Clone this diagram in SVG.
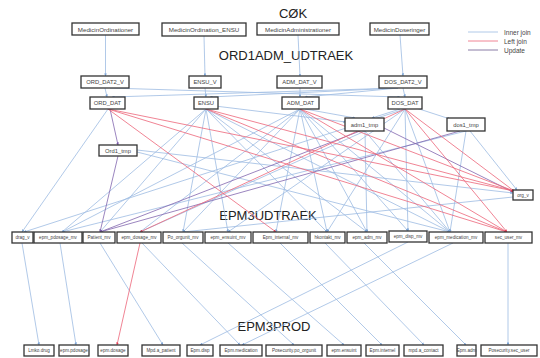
<svg xmlns="http://www.w3.org/2000/svg" width="540" height="358" viewBox="0 0 540 358">
<defs>
<marker id="ab" viewBox="0 0 6 6" refX="5.5" refY="3" markerWidth="3.5" markerHeight="3.5" orient="auto"><path d="M0,0 L6,3 L0,6 z" fill="#7fa6d6"/></marker>
<marker id="ar" viewBox="0 0 6 6" refX="5.5" refY="3" markerWidth="3.5" markerHeight="3.5" orient="auto"><path d="M0,0 L6,3 L0,6 z" fill="#e43f55"/></marker>
<marker id="ap" viewBox="0 0 6 6" refX="5.5" refY="3" markerWidth="3.5" markerHeight="3.5" orient="auto"><path d="M0,0 L6,3 L0,6 z" fill="#7a58a8"/></marker>
</defs>
<style>
.bg{fill:#fff}
.node rect{fill:#fff;stroke:#333;stroke-width:1.3}
.lbl{font-family:"Liberation Sans",Arial,sans-serif;fill:#444;text-anchor:middle;dominant-baseline:central}
.t6{font-size:6.2px}.t5{font-size:5.8px}.t4{font-size:4.6px}
.title{font-family:"Liberation Sans",Arial,sans-serif;font-size:13px;fill:#222;text-anchor:middle}
.leg{font-family:"Liberation Sans",Arial,sans-serif;font-size:6.5px;fill:#444}
.i{stroke:#9dbbe2;stroke-width:0.8;fill:none;marker-end:url(#ab)}
.l{stroke:#ec6478;stroke-width:0.8;fill:none;marker-end:url(#ar)}
.u{stroke:#8266ae;stroke-width:0.8;fill:none;marker-end:url(#ap)}
.li{stroke:#9dbbe2;stroke-width:0.8}
.ll{stroke:#ec6478;stroke-width:0.8}
.lu{stroke:#6d5a90;stroke-width:0.8}
</style>
<rect class="bg" x="0" y="0" width="540" height="358"/>

<text class="title" x="293" y="18">CØK</text>
<text class="title" x="286" y="60">ORD1ADM_UDTRAEK</text>
<text class="title" x="268" y="220" font-size="12">EPM3UDTRAEK</text>
<text class="title" x="274" y="331" font-size="12">EPM3PROD</text>

<g id="legend">
<line class="li" x1="468" y1="32" x2="498" y2="32"/><text class="leg" x="504" y="34.5">Inner join</text>
<line class="ll" x1="468" y1="41" x2="498" y2="41"/><text class="leg" x="504" y="43.5">Left join</text>
<line class="lu" x1="468" y1="50" x2="498" y2="50"/><text class="leg" x="504" y="52.5">Update</text>
</g>

<g id="connectors">
<path class="i" d="M105.5 35 L105.5 76"/>
<path class="i" d="M204 36 L205 76"/>
<path class="i" d="M298 35 L300 76"/>
<path class="i" d="M400 35 L403 76"/>
<path class="i" d="M105 88 L107 97"/>
<path class="i" d="M205 88 L206 97"/>
<path class="i" d="M300 88 L300 97"/>
<path class="i" d="M403 88 L405 97"/>
<path class="i" d="M110 88 L400 97"/>
<path class="i" d="M398 88 L112 97"/>
<path class="i" d="M398 88 L210 97"/>
<path class="i" d="M398 88 L305 97"/>
<path class="i" d="M108 109 L22 232"/>
<path class="i" d="M405 109 L24 232"/>
<path class="i" d="M206 109 L62 232"/>
<path class="i" d="M300 109 L62 232"/>
<path class="i" d="M466 131 L62 232"/>
<path class="i" d="M206 109 L100 232"/>
<path class="i" d="M300 109 L140 232"/>
<path class="i" d="M365 131 L140 232"/>
<path class="i" d="M206 109 L183 232"/>
<path class="i" d="M300 109 L183 232"/>
<path class="i" d="M513 197 L183 232"/>
<path class="i" d="M206 109 L228 232"/>
<path class="i" d="M405 109 L228 232"/>
<path class="i" d="M300 109 L276 232"/>
<path class="i" d="M206 109 L327 232"/>
<path class="i" d="M300 109 L327 232"/>
<path class="i" d="M405 109 L327 232"/>
<path class="i" d="M300 109 L367 232"/>
<path class="i" d="M365 131 L367 232"/>
<path class="i" d="M206 109 L367 232"/>
<path class="i" d="M405 109 L408 231"/>
<path class="i" d="M300 109 L408 231"/>
<path class="i" d="M206 109 L450 232"/>
<path class="i" d="M300 109 L450 232"/>
<path class="i" d="M405 109 L450 232"/>
<path class="i" d="M365 131 L450 232"/>
<path class="i" d="M466 131 L450 232"/>
<path class="i" d="M137 152 L450 232"/>
<path class="i" d="M470 131 L517 190"/>
<path class="i" d="M410 106 L450 119"/>
<path class="i" d="M400 109 L372 118"/>
<path class="i" d="M305 109 L355 118"/>
<path class="i" d="M215 106 L346 122"/>
<path class="i" d="M137 150 L513 193"/>
<path class="u" d="M110 109 L118 145"/>
<path class="u" d="M118 156 L100 232"/>
<path class="u" d="M360 131 L100 232"/>
<path class="u" d="M460 131 L100 232"/>
<path class="u" d="M384 128 L513 192"/>
<path class="l" d="M108 109 L276 232"/>
<path class="l" d="M108 109 L514 191"/>
<path class="l" d="M206 109 L514 191"/>
<path class="l" d="M300 109 L514 191"/>
<path class="l" d="M405 109 L514 191"/>
<path class="l" d="M108 109 L507 232"/>
<path class="l" d="M206 109 L507 232"/>
<path class="l" d="M300 109 L507 232"/>
<path class="l" d="M405 109 L507 232"/>
<path class="l" d="M405 109 L140 232"/>
<path class="i" d="M22 243 L39 345"/>
<path class="i" d="M60 243 L76 345"/>
<path class="i" d="M100 243 L163 345"/>
<path class="l" d="M140 243 L117 345"/>
<path class="i" d="M142 243 L240 345"/>
<path class="i" d="M182 243 L294 345"/>
<path class="i" d="M228 243 L344 345"/>
<path class="i" d="M280 243 L382 345"/>
<path class="i" d="M325 243 L424 345"/>
<path class="i" d="M364 243 L466 345"/>
<path class="i" d="M408 242 L200 345"/>
<path class="i" d="M453 243 L242 345"/>
<path class="i" d="M508 243 L508 345"/>
</g>

<g id="MedicinOrdinationer" class="node"><rect x="72" y="23" width="67" height="12"/><text class="lbl t6" x="105.5" y="29">MedicinOrdinationer</text></g>
<g id="MedicinOrdination_ENSU" class="node"><rect x="162" y="23" width="84" height="13"/><text class="lbl t6" x="204" y="29.5">MedicinOrdination_ENSU</text></g>
<g id="MedicinAdministrationer" class="node"><rect x="257" y="23" width="82" height="12"/><text class="lbl t6" x="298" y="29">MedicinAdministrationer</text></g>
<g id="MedicinDoseringer" class="node"><rect x="370" y="23" width="59" height="12"/><text class="lbl t6" x="399.5" y="29">MedicinDoseringer</text></g>

<g id="ORD_DAT2_V" class="node"><rect x="81" y="76" width="48" height="12"/><text class="lbl t5" x="105" y="82">ORD_DAT2_V</text></g>
<g id="ENSU_V" class="node"><rect x="189" y="76" width="32" height="12"/><text class="lbl t5" x="205" y="82">ENSU_V</text></g>
<g id="ADM_DAT_V" class="node"><rect x="277" y="76" width="45" height="12"/><text class="lbl t5" x="299.5" y="82">ADM_DAT_V</text></g>
<g id="DOS_DAT2_V" class="node"><rect x="379" y="76" width="48" height="12"/><text class="lbl t5" x="403" y="82">DOS_DAT2_V</text></g>

<g id="ORD_DAT" class="node"><rect x="90" y="97" width="35" height="12"/><text class="lbl t5" x="107.5" y="103">ORD_DAT</text></g>
<g id="ENSU" class="node"><rect x="194" y="97" width="24" height="12"/><text class="lbl t5" x="206" y="103">ENSU</text></g>
<g id="ADM_DAT" class="node"><rect x="282" y="97" width="37" height="12"/><text class="lbl t5" x="300.5" y="103">ADM_DAT</text></g>
<g id="DOS_DAT" class="node"><rect x="388" y="97" width="34" height="12"/><text class="lbl t5" x="405" y="103">DOS_DAT</text></g>

<g id="adm1_tmp" class="node"><rect x="345" y="118" width="39" height="13"/><text class="lbl t5" x="364.5" y="124.5">adm1_tmp</text></g>
<g id="dos1_tmp" class="node"><rect x="447" y="118" width="38" height="13"/><text class="lbl t5" x="466" y="124.5">dos1_tmp</text></g>
<g id="Ord1_tmp" class="node"><rect x="99" y="145" width="38" height="11"/><text class="lbl t5" x="118" y="150.5">Ord1_tmp</text></g>
<g id="org_v" class="node"><rect x="513" y="190" width="20" height="10"/><text class="lbl t4" x="523" y="195">org_v</text></g>

<g id="drag_v" class="node"><rect x="12" y="232" width="21" height="11"/><text class="lbl t4" x="22.5" y="237.5">drag_v</text></g>
<g id="epm_pdosage_mv" class="node"><rect x="34" y="232" width="48" height="11"/><text class="lbl t4" x="58" y="237.5">epm_pdosage_mv</text></g>
<g id="Patient_mv" class="node"><rect x="83" y="232" width="32" height="11"/><text class="lbl t4" x="99" y="237.5">Patient_mv</text></g>
<g id="epm_dosage_mv" class="node"><rect x="117" y="232" width="44" height="11"/><text class="lbl t4" x="139" y="237.5">epm_dosage_mv</text></g>
<g id="Po_orgunit_mv" class="node"><rect x="163" y="232" width="40" height="11"/><text class="lbl t4" x="183" y="237.5">Po_orgunit_mv</text></g>
<g id="epm_ensuint_mv" class="node"><rect x="205" y="232" width="46" height="11"/><text class="lbl t4" x="228" y="237.5">epm_ensuint_mv</text></g>
<g id="Epm_internal_mv" class="node"><rect x="253" y="232" width="55" height="11"/><text class="lbl t4" x="280.5" y="237.5">Epm_internal_mv</text></g>
<g id="hkontakt_mv" class="node"><rect x="310" y="232" width="35" height="11"/><text class="lbl t4" x="327.5" y="237.5">hkontakt_mv</text></g>
<g id="epm_adm_mv" class="node"><rect x="347" y="232" width="40" height="11"/><text class="lbl t4" x="367" y="237.5">epm_adm_mv</text></g>
<g id="epm_disp_mv" class="node"><rect x="389" y="231" width="38" height="11"/><text class="lbl t4" x="408" y="236.5">epm_disp_mv</text></g>
<g id="epm_medication_mv" class="node"><rect x="429" y="232" width="54" height="11"/><text class="lbl t4" x="456" y="237.5">epm_medication_mv</text></g>
<g id="sec_user_mv" class="node"><rect x="485" y="232" width="47" height="11"/><text class="lbl t4" x="508.5" y="237.5">sec_user_mv</text></g>

<g id="Lmko.drug" class="node"><rect x="24" y="345" width="30" height="11"/><text class="lbl t4" x="39" y="350.5">Lmko.drug</text></g>
<g id="epm.pdosage" class="node"><rect x="59" y="345" width="30" height="11"/><text class="lbl t4" x="74" y="350.5">epm.pdosage</text></g>
<g id="epm.dosage" class="node"><rect x="98" y="345" width="30" height="11"/><text class="lbl t4" x="113" y="350.5">epm.dosage</text></g>
<g id="Mpd.a_patient" class="node"><rect x="142" y="345" width="38" height="11"/><text class="lbl t4" x="161" y="350.5">Mpd.a_patient</text></g>
<g id="Epm.disp" class="node"><rect x="187" y="345" width="26" height="11"/><text class="lbl t4" x="200" y="350.5">Epm.disp</text></g>
<g id="Epm.medication" class="node"><rect x="220" y="345" width="42" height="11"/><text class="lbl t4" x="241" y="350.5">Epm.medication</text></g>
<g id="Posecurity.po_orgunit" class="node"><rect x="266" y="345" width="56" height="11"/><text class="lbl t4" x="294" y="350.5">Posecurity.po_orgunit</text></g>
<g id="epm.ensuint" class="node"><rect x="327" y="345" width="34" height="11"/><text class="lbl t4" x="344" y="350.5">epm.ensuint</text></g>
<g id="Epm.internel" class="node"><rect x="366" y="345" width="33" height="11"/><text class="lbl t4" x="382.5" y="350.5">Epm.internel</text></g>
<g id="mpd.a_contact" class="node"><rect x="404" y="345" width="39" height="11"/><text class="lbl t4" x="423.5" y="350.5">mpd.a_contact</text></g>
<g id="Epm.adm" class="node"><rect x="457" y="345" width="19" height="11"/><text class="lbl t4" x="466.5" y="350.5">Epm.adm</text></g>
<g id="Posecurity.sec_user" class="node"><rect x="481" y="345" width="56" height="11"/><text class="lbl t4" x="509" y="350.5">Posecurity.sec_user</text></g>
</svg>
